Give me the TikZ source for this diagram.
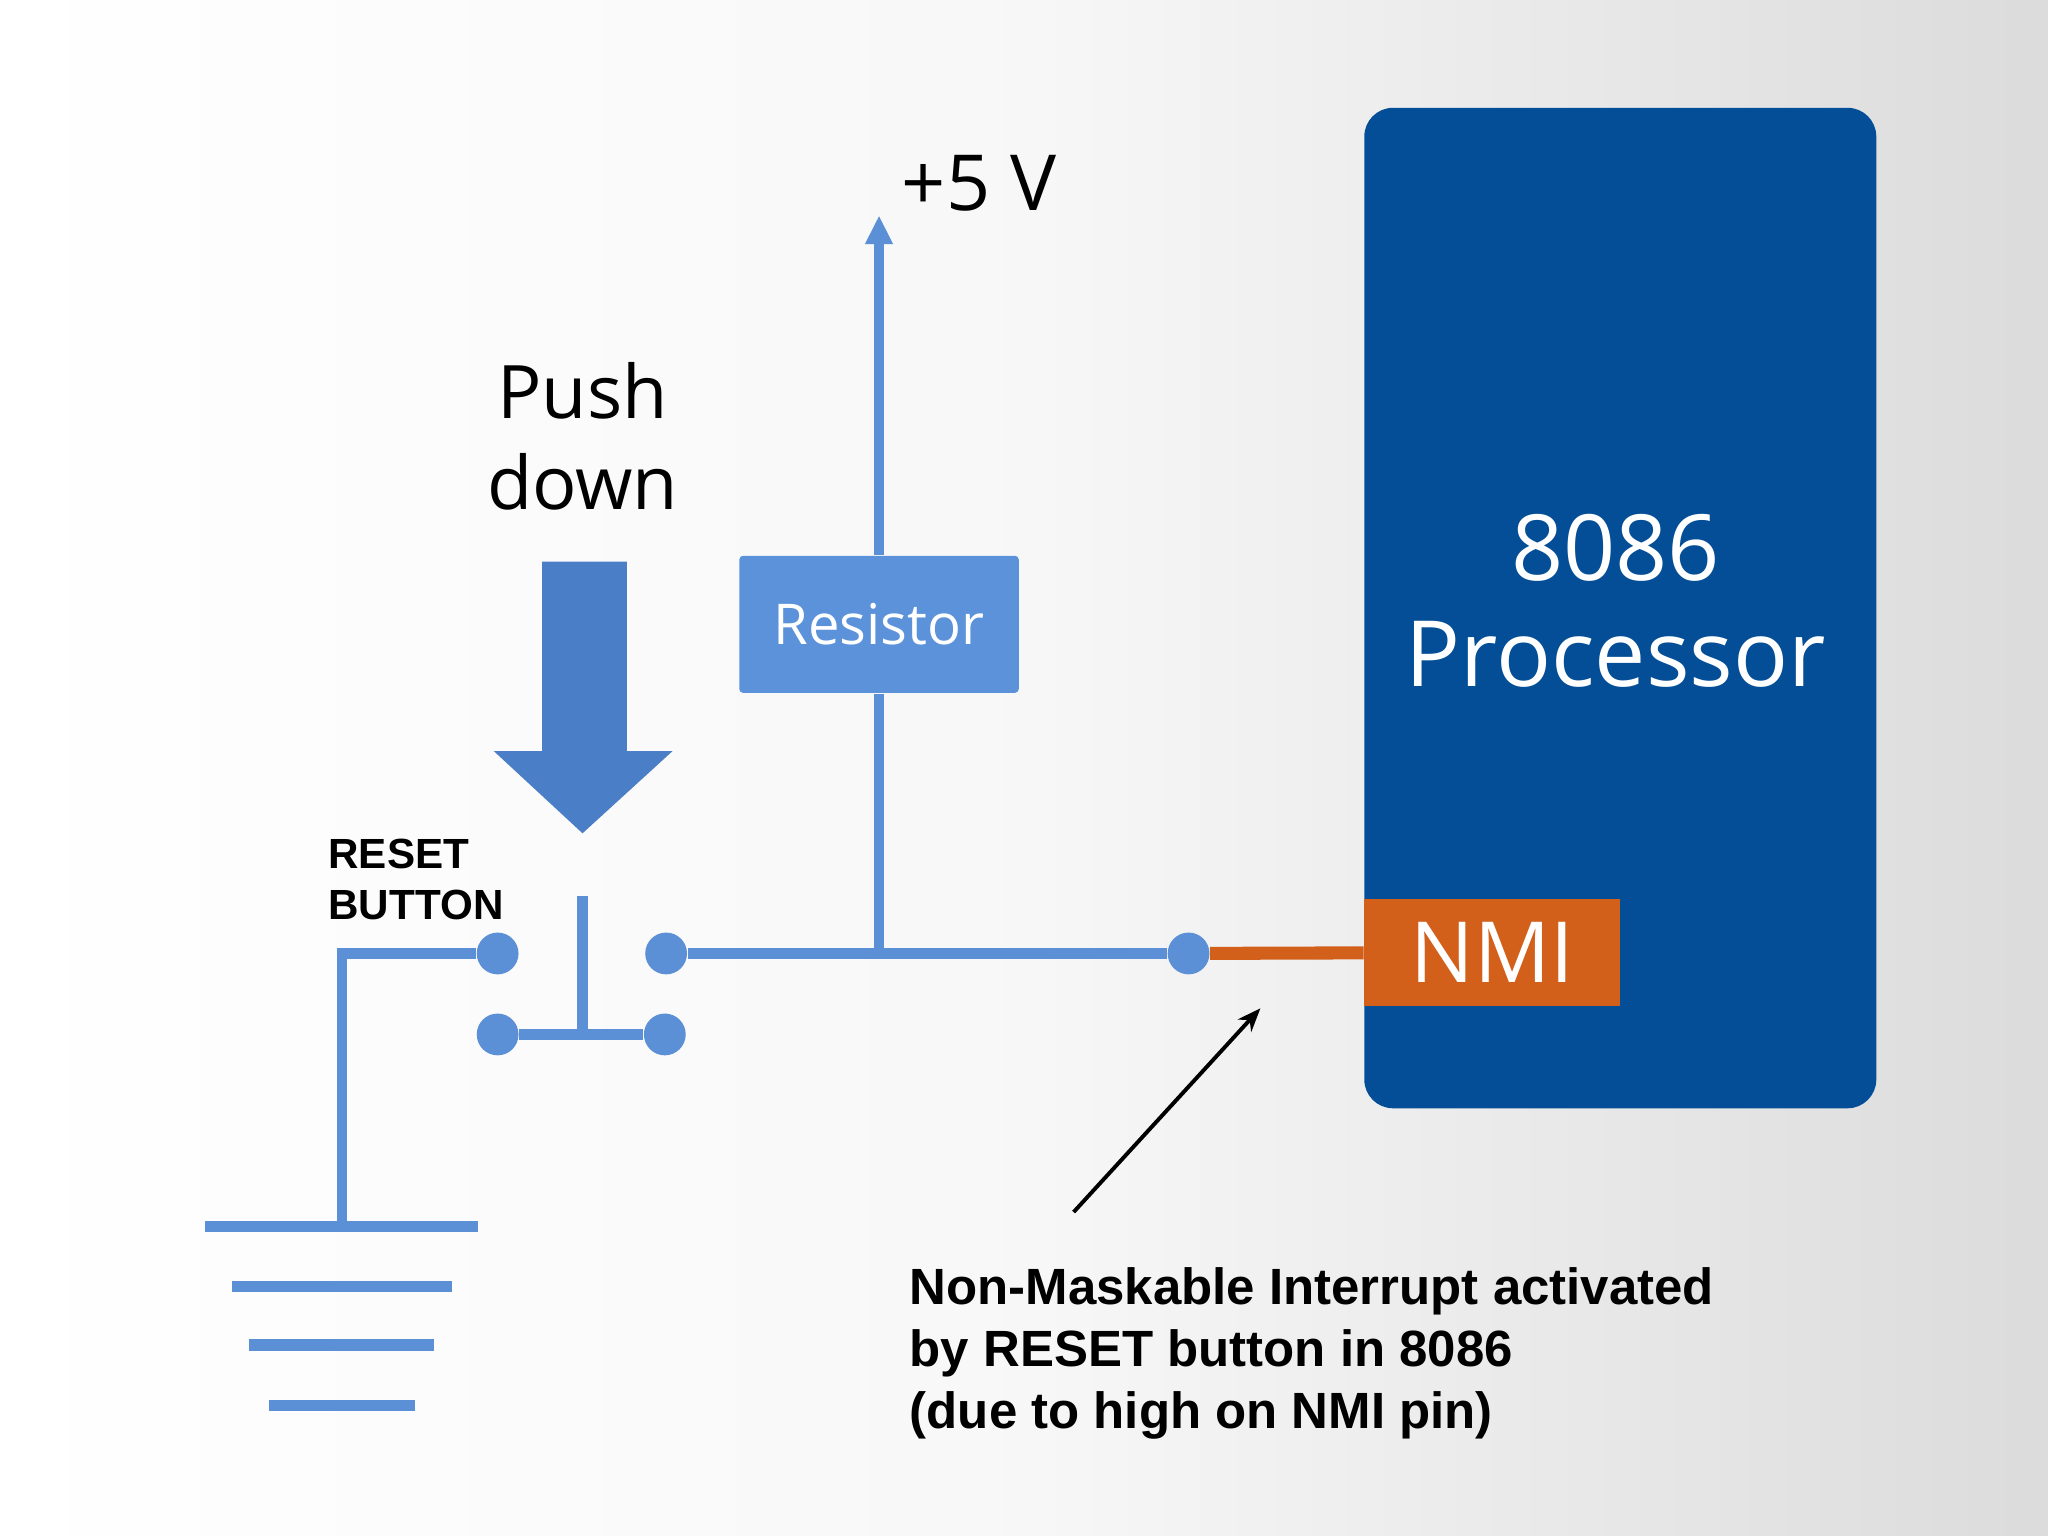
\documentclass[tikz,border=0pt]{standalone}
\usetikzlibrary{arrows.meta}
\usepackage{fontspec}
\setmainfont{Open Sans}
\newfontfamily\arialf{Liberation Sans}
\begin{document}
\begin{tikzpicture}[x=0.013061cm,y=-0.013061cm,
  wire/.style={draw=wireblue,line width=8*0.013061cm},
  gnd/.style={draw=wireblue,line width=9*0.013061cm},
  dot/.style={circle,fill=wireblue,minimum size=32*0.013061cm,inner sep=0pt},
  lbl/.style={font=\arialf\bfseries\fontsize{14.5}{17.6}\selectfont,align=left,anchor=north west,inner sep=0pt},
  ]
\definecolor{wireblue}{HTML}{5B8FD6}
\definecolor{procblue}{HTML}{034E96}
\definecolor{nmiorange}{HTML}{D2601A}
\definecolor{pushblue}{HTML}{4A7EC7}
\definecolor{resblue}{HTML}{5C92DA}
\shade[left color=white,right color=black!14,middle color=black!3] (0,0) rectangle (1568,1176);
\useasboundingbox (0,0) rectangle (1568,1176);
% processor
\node[fill=procblue,rounded corners=22*0.013061cm,minimum width=392*0.013061cm,minimum height=766*0.013061cm,inner sep=0pt,anchor=north west] (proc) at (1044,82) {};
\node[text=white,font=\fontsize{26}{30}\selectfont,align=center] (ptxt) at (1237,460) {8086\\Processor};
\node[fill=nmiorange,minimum width=196*0.013061cm,minimum height=82*0.013061cm,inner sep=0pt,anchor=north west,text=white,font=\fontsize{24}{29}\selectfont] (nmi) at (1044,688) {NMI};
% resistor
\node[fill=resblue,rounded corners=3*0.013061cm,minimum width=214*0.013061cm,minimum height=105*0.013061cm,inner sep=0pt,text=white,font=\fontsize{16}{19}\selectfont] (res) at (673,478) {Resistor};
\coordinate (vcc) at (673,165);
\node[font=\fontsize{22}{26}\selectfont,anchor=west,inner sep=0pt] (v5) at (690,140) {+5 V};
\draw[wire,-{Triangle[length=22*0.013061cm,width=20*0.013061cm]}] (res.north) -- (vcc);
% dots
\node[dot] (d1) at (381,730) {};
\node[dot] (d2) at (510,730) {};
\node[dot] (d3) at (910,730) {};
\node[dot] (d4) at (381,792) {};
\node[dot] (d5) at (509,792) {};
\coordinate (jn) at (673,730);
\coordinate (corner) at (262,730);
\coordinate (gtop) at (262,935);
\coordinate (pt) at (446,686);
\coordinate (pb) at (446,792);
\draw[wire] (d2) -- (d3);
\draw[wire] (res.south) -- (jn);
\draw[wire] (d1) -- (corner) -- (gtop);
\draw[wire] (d4) -- (d5);
\draw[wire] (pt) -- (pb);
\draw[draw=nmiorange,line width=10*0.013061cm] (d3) -- (nmi.west);
% ground
\draw[gnd] (157,939) -- (366,939);
\draw[gnd] (178,985) -- (346,985);
\draw[gnd] (191,1030) -- (332,1030);
\draw[gnd] (206,1076) -- (318,1076);
% push arrow
\fill[pushblue] (415,430) -- (480,430) -- (480,575) -- (515,575) -- (446,638) -- (378,575) -- (415,575) -- cycle;
\node[font=\fontsize{21}{26}\selectfont,align=center] (push) at (446,334) {Push\\down};
\node[font=\arialf\bfseries\fontsize{12}{14.5}\selectfont,align=left,anchor=north west,inner sep=0pt] (rb) at (251,642) {RESET\\BUTTON};
% annotation
\coordinate (a1) at (822,928);
\coordinate (a2) at (965,772);
\draw[line width=3*0.013061cm,-{Stealth[length=18*0.013061cm,width=14*0.013061cm]}] (a1) -- (a2);
\node[lbl] (note) at (696,970) {Non-Maskable Interrupt activated\\by RESET button in 8086\\(due to high on NMI pin)};
\end{tikzpicture}
\end{document}
